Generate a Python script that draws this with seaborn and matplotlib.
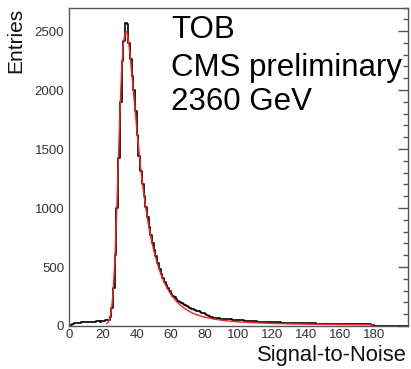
import numpy as np
import pandas as pd
import matplotlib
matplotlib.use("Agg")
import matplotlib.pyplot as plt
import seaborn as sns
from matplotlib.ticker import MultipleLocator

# Histogram: bin width 1, bins [0,1), [1,2), ... up to 200
counts = [
    5, 10, 20, 25, 25, 28, 28, 30, 30, 32,
    30, 33, 33, 35, 35, 38, 40, 40, 38, 40,
    45, 48, 50, 55, 80, 150, 320, 600, 1000, 1420,
    1900, 2250, 2420, 2570, 2560, 2400, 2260, 2120, 2000, 1820,
    1620, 1440, 1310, 1200, 1100, 1010, 920, 840, 770, 700,
    645, 590, 535, 480, 440, 405, 375, 345, 320, 295,
    275, 258, 242, 228, 215, 205, 195, 186, 178, 170,
    162, 155, 148, 142, 136, 131, 126, 121, 114, 106,
    98, 90, 83, 77, 73, 70, 68, 66, 64, 62,
    61, 60, 59, 58, 57, 56, 54, 52, 52, 50,
    50, 48, 47, 46, 45, 45, 44, 42, 40, 40,
    39, 38, 38, 37, 36, 36, 35, 34, 33, 33,
    32, 31, 31, 30, 30, 29, 29, 28, 28, 27,
    27, 27, 26, 26, 25, 25, 25, 24, 24, 24,
    23, 23, 23, 22, 22, 22, 21, 21, 21, 20,
    20, 20, 19, 19, 19, 18, 18, 18, 17, 17,
    17, 17, 16, 16, 16, 16, 15, 15, 15, 15,
    14, 14, 14, 14, 13, 13, 13, 13, 12, 12,
    0, 0, 0, 0, 0, 0, 0, 0, 0, 0,
    0, 0, 0, 0, 0, 0, 0, 0, 0, 0,
]
bin_edges = list(range(0, 201))

# Fit curve (Landau (x) Gauss), sampled
fit_x = [22, 23, 24, 25, 26, 27, 28, 29, 30, 31, 32, 33, 34, 35, 36, 37, 38, 39, 40,
         41, 42, 43, 44, 45, 46, 47, 48, 49, 50, 52, 54, 56, 58, 60, 62, 64, 66, 68,
         70, 72, 74, 76, 78, 80, 85, 90, 95, 100, 110, 120, 130, 140, 150, 160, 170, 180]
fit_y = [20, 30, 60, 130, 280, 540, 900, 1350, 1800, 2150, 2380, 2480, 2495, 2430, 2300,
         2150, 1990, 1830, 1670, 1520, 1380, 1250, 1135, 1030, 935, 850, 775, 705, 642,
         535, 447, 376, 318, 271, 232, 200, 173, 151, 132, 116, 103, 92, 83, 75, 60, 49,
         41, 35, 27, 22, 18, 16, 14, 12, 11, 10]

x_ticks = [0, 20, 40, 60, 80, 100, 120, 140, 160, 180]
x_tick_labels = ["0", "20", "40", "60", "80", "100", "120", "140", "160", "180"]
y_ticks = [0, 500, 1000, 1500, 2000, 2500]
y_tick_labels = ["0", "500", "1000", "1500", "2000", "2500"]
annotations = ["TOB", "CMS preliminary", "2360 GeV"]

sns.set_style("white")
plt.rcParams["font.family"] = ["Liberation Sans", "DejaVu Sans"]

W, H = 411, 369
fig = plt.figure(figsize=(W / 100, H / 100), dpi=100)
ax = fig.add_axes([69 / W, 1 - 326 / H, (408 - 69) / W, (326 - 7.5) / H])

centers = [(bin_edges[i] + bin_edges[i + 1]) / 2 for i in range(len(counts))]
df_h = pd.DataFrame({"x": centers, "w": counts})
sns.histplot(data=df_h, x="x", weights="w", bins=bin_edges, element="step",
             fill=False, color="black", linewidth=1.2, ax=ax)

df_f = pd.DataFrame({"x": fit_x, "y": fit_y})
sns.lineplot(data=df_f, x="x", y="y", color="#ff2020", linewidth=1.0, ax=ax)

ax.set_xlim(0, 200)
ax.set_ylim(0, 2700)
ax.set_xticks(x_ticks)
ax.set_xticklabels(x_tick_labels)
ax.set_yticks(y_ticks)
ax.set_yticklabels(y_tick_labels)
ax.xaxis.set_minor_locator(MultipleLocator(5))
ax.yaxis.set_minor_locator(MultipleLocator(100))
ax.tick_params(which="both", direction="in", top=False, right=True, colors="#555555",
               labelcolor="#333333", labelsize=9.5, width=1.0)
ax.tick_params(which="major", length=7)
ax.tick_params(which="minor", length=3.5)
ax.tick_params(axis="x", pad=2)
for s in ax.spines.values():
    s.set_color("#555555")
    s.set_linewidth(1.0)
    s.set_visible(True)

ax.set_xlabel("")
ax.set_ylabel("")
fig.text(407 / W, 1 - 361 / H, "Signal-to-Noise", ha="right", va="baseline",
         fontsize=15.8, color="#111111")
fig.text(16 / W, 1 - 8 / H, "Entries", ha="center", va="top", rotation=90,
         fontsize=15, color="#111111")

baselines = [38.3, 76.0, 110.5]
for t, b in zip(annotations, baselines):
    fig.text(171 / W, 1 - b / H, t, ha="left", va="baseline", fontsize=22.5,
             color="black", zorder=11)

fig.savefig("out.png", dpi=100)
